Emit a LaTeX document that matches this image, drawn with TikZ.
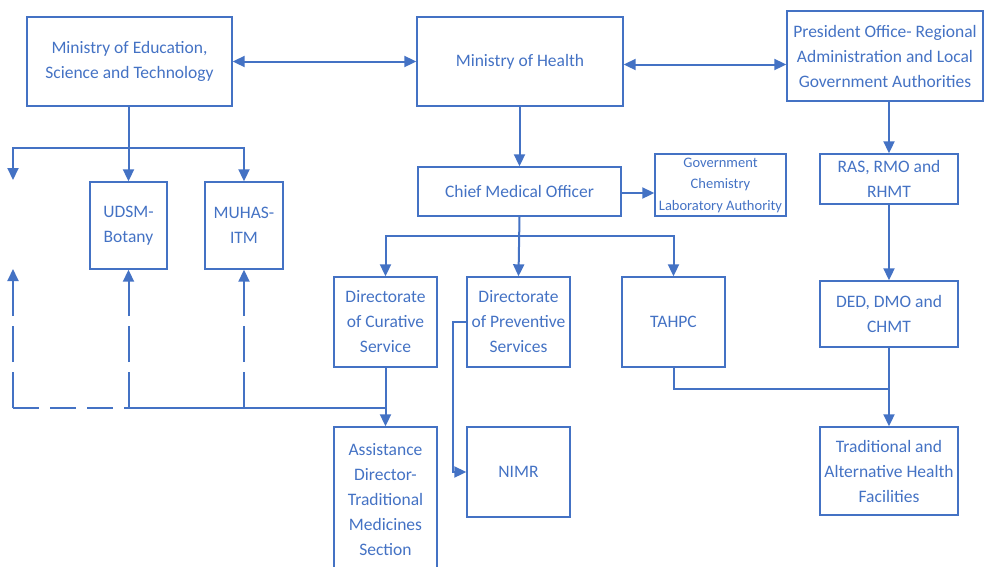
\documentclass[tikz,border=0pt]{standalone}
\usepackage{fontspec}
\setmainfont{Carlito}
\usetikzlibrary{arrows.meta}
\definecolor{orgblue}{HTML}{4472C4}

\begin{document}
\begin{tikzpicture}[x=1pt,y=-1pt,
    >={Triangle[width=11pt,length=12pt]},
    box/.style={draw=orgblue,line width=1.4pt,text=orgblue,align=center,
      font=\fontsize{17.5}{25}\selectfont,inner sep=2pt},
    smallbox/.style={box,font=\fontsize{14.5}{21.5}\selectfont},
    link/.style={draw=orgblue,line width=2pt,->},
    dashlink/.style={link,dash pattern=on 36pt off 10pt},
    dashrun/.style={draw=orgblue,line width=2pt,dash pattern=on 26pt off 11pt}]
        \useasboundingbox (0,0) rectangle (985,566);
        % top row
        \node[box,minimum width=205,minimum height=89] (moest) at (129.5,61.5) {Ministry of Education,\\Science and Technology};
        \node[box,minimum width=206,minimum height=89] (moh) at (520,61.5) {Ministry of Health};
        \node[box,minimum width=196,minimum height=90] (poralg) at (885,56) {President Office- Regional\\Administration and Local\\Government Authorities};
        % second row
        \node[box,minimum width=203,minimum height=49] (cmo) at (519.5,191.5) {Chief Medical Officer};
        \node[smallbox,minimum width=131,minimum height=62] (gcla) at (720.5,185) {Government\\Chemistry\\Laboratory Authority};
        \node[box,minimum width=138,minimum height=50] (ras) at (889,179) {RAS, RMO and\\RHMT};
        \node[box,minimum width=77,minimum height=87] (udsm) at (128.5,225.5) {UDSM-\\Botany};
        \node[box,minimum width=78,minimum height=87] (muhas) at (244,225.5) {MUHAS-\\ITM};
        % directorates
        \node[box,minimum width=103,minimum height=90] (cur) at (385.5,322) {Directorate\\of Curative\\Service};
        \node[box,minimum width=103,minimum height=90] (prev) at (518.5,322) {Directorate\\of Preventive\\Services};
        \node[box,minimum width=103,minimum height=90] (tahpc) at (673.5,322) {TAHPC};
        \node[box,minimum width=138,minimum height=66] (ded) at (889,314) {DED, DMO and\\CHMT};
        % bottom row
        \node[box,minimum width=103,minimum height=145] (asst) at (385.5,499.5) {Assistance\\Director-\\Traditional\\Medicines\\Section};
        \node[box,minimum width=103,minimum height=90] (nimr) at (518.5,472) {NIMR};
        \node[box,minimum width=138,minimum height=88] (fac) at (889,471) {Traditional and\\Alternative Health\\Facilities};
        % free ends and joints
        \coordinate (split1) at (128.5,148);
        \coordinate (split2) at (519,236);
        \coordinate (lt) at (13,180);
        \coordinate (lb) at (13,269);
        \coordinate (lf) at (13,408);
        \coordinate (jn) at (385.5,408);
        \coordinate (tj) at (889,389);
        % top links
        \draw[link,<->] (moest.east) -- (moh.west);
        \draw[link,<->] ([yshift=-3]moh.east) -- ([yshift=-3]moh.east -| poralg.west);
        \draw[link] (moest.south -| udsm.north) -- (udsm.north);
        \draw[link] (split1) -| (muhas.north);
        \draw[link] (split1) -| (lt);
        \draw[link] (moh.south -| cmo.north) -- (cmo.north);
        \draw[link] ([yshift=-1.5]cmo.east) -- ([yshift=-1.5]cmo.east -| gcla.west);
        \draw[link] (cmo.south) -- (prev.north);
        \draw[link] (split2) -| (cur.north);
        \draw[link] (split2) -| (tahpc.north);
        \draw[link] (prev.west) -- ++(-13,0) |- (nimr.west);
        \draw[link] (cur.south) -- (asst.north);
        % regional side
        \draw[link] (poralg.south -| ras.north) -- (ras.north);
        \draw[link] (ras.south) -- (ded.north);
        \draw[link] (ded.south) -- (fac.north);
        \draw[draw=orgblue,line width=2pt] (tahpc.south) |- (tj);
        % dashed feedback
        \draw[dashrun] (lf) -- (udsm.south |- jn);
        \draw[draw=orgblue,line width=2pt] (udsm.south |- jn) -- (jn);
        \draw[dashlink] (lf) -- (lb);
        \draw[dashlink] (udsm.south |- jn) -- (udsm.south);
        \draw[dashlink] (muhas.south |- jn) -- (muhas.south);
\end{tikzpicture}
\end{document}
